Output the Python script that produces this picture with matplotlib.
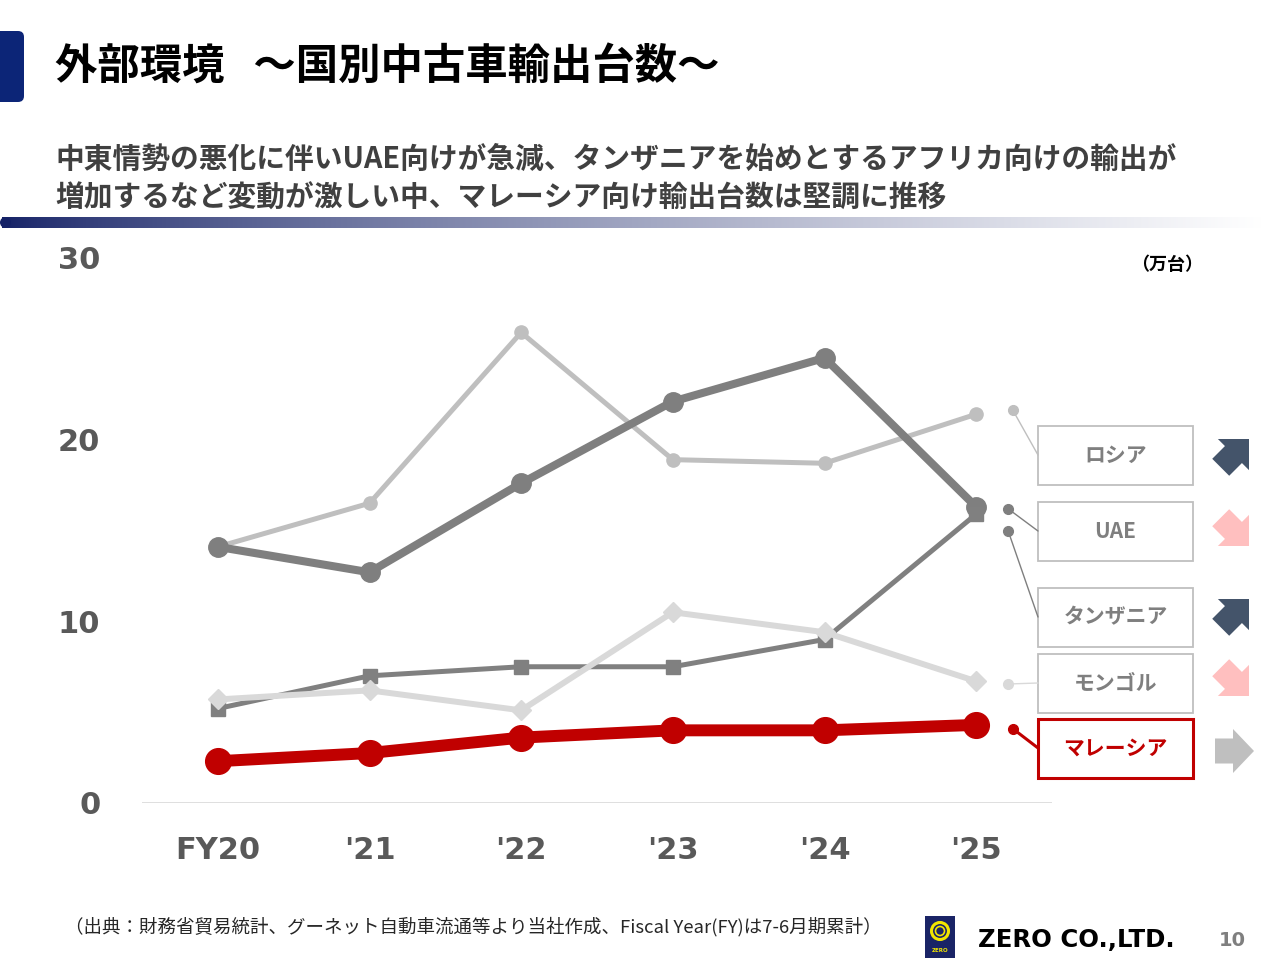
import numpy as np
import matplotlib
matplotlib.use("Agg")
import matplotlib.pyplot as plt
from matplotlib.patches import FancyBboxPatch, Rectangle, Polygon, Circle

plt.rcParams['font.family'] = ['Noto Sans CJK JP', 'DejaVu Sans']

# ---------------- data ----------------
years = ['FY20', "'21", "'22", "'23", "'24", "'25"]
russia = [14.1, 16.5, 25.9, 18.9, 18.7, 21.4]
uae = [14.1, 12.7, 17.6, 22.1, 24.5, 16.3]
tanzania = [5.2, 7.0, 7.5, 7.5, 9.0, 15.9]
mongolia = [5.7, 6.2, 5.1, 10.5, 9.4, 6.7]
malaysia = [2.3, 2.75, 3.6, 4.0, 4.0, 4.3]
names = ['ロシア', 'UAE', 'タンザニア', 'モンゴル', 'マレーシア']
trend = ['up', 'down', 'up', 'down', 'flat']
yticks = [0, 10, 20, 30]

# ---------------- styles ----------------
series = [russia, uae, tanzania, mongolia, malaysia]
colors = ['#bfbfbf', '#7f7f7f', '#808080', '#d9d9d9', '#c00000']
lws = [3.6, 5.8, 3.6, 4.3, 8.6]
markers = ['o', 'o', 's', 'D', 'o']
msizes = [9.5, 14, 10, 10, 18.5]
zorders = [2, 3, 4, 5, 6]
label_dy = [0.25, -0.1, -0.9, -0.15, -0.2]
label_dx = [5.24, 5.21, 5.21, 5.21, 5.24]
box_cy = [455, 531, 617, 683, 748]
arrow_tip = [(1249, 439), (1249, 546), (1249, 599), (1249, 696), (1254, 751)]

fig = plt.figure(figsize=(12.8, 9.6), dpi=100)
fig.patch.set_facecolor('white')

# overlay in pixel coordinates for decorations
ov = fig.add_axes([0, 0, 1, 1], zorder=0)
ov.set_xlim(0, 1280)
ov.set_ylim(960, 0)
ov.axis('off')

ax = fig.add_axes([142 / 1280, 1 - 803 / 960, 910 / 1280, (803 - 258) / 960], zorder=2)
ax.patch.set_alpha(0)
x = np.arange(len(years))
for s, c, lw, m, ms, z in zip(series, colors, lws, markers, msizes, zorders):
    ax.plot(x, s, color=c, lw=lw, marker=m, ms=ms, mec=c, mfc=c, zorder=z,
            clip_on=False, solid_joinstyle='round')
ax.set_xlim(-0.5, 5.5)
ax.set_ylim(0, 30)
ax.set_yticks(yticks)
ax.set_xticks(x)
ax.set_xticklabels(years)
ax.tick_params(length=0)
for sp in ax.spines.values():
    sp.set_visible(False)
ax.axhline(0, color='#d9d9d9', lw=1.2, zorder=1)
for t in ax.get_yticklabels():
    t.set_fontfamily('DejaVu Sans'); t.set_fontweight('bold'); t.set_fontsize(22); t.set_color('#595959')
for t in ax.get_xticklabels():
    t.set_fontfamily('DejaVu Sans'); t.set_fontweight('bold'); t.set_fontsize(22); t.set_color('#595959')
ax.tick_params(axis='y', pad=30)
ax.tick_params(axis='x', pad=24)

# callouts + legend boxes
for i, (nm, s, c) in enumerate(zip(names, series, colors)):
    dc = '#7f7f7f' if c in ('#808080', '#7f7f7f') else c
    yd = s[-1] + label_dy[i]
    ax.plot([label_dx[i]], [yd], 'o', color=dc, ms=7, clip_on=False, zorder=7)
    ax.annotate('', xy=(label_dx[i], yd), xycoords='data',
                xytext=(1038, box_cy[i]), textcoords=ov.transData,
                arrowprops=dict(arrowstyle='-', color=dc, lw=1.0 if i != 4 else 2.2,
                                shrinkA=0, shrinkB=0), zorder=7)
    ec = '#c00000' if i == 4 else '#bfbfbf'
    blw = 2.2 if i == 4 else 1.3
    ov.add_patch(Rectangle((1038, box_cy[i] - 29.5), 155, 59, fc='white', ec=ec, lw=blw, zorder=3))
    ov.text(1115.5, box_cy[i], nm, ha='center', va='center', fontsize=15, fontweight='bold',
            color='#c00000' if i == 4 else '#7f7f7f', zorder=4)

# trend arrows
def arrow_poly(tip, d, L=40, hl=21, hw=21, sw=12.5):
    u = np.array(d, float); u /= np.linalg.norm(u)
    v = np.array([-u[1], u[0]])
    t = np.array(tip, float)
    pts = [(0, 0), (-hl, hw), (-hl, sw), (-L, sw), (-L, -sw), (-hl, -sw), (-hl, -hw)]
    return [t + a * u + b * v for a, b in pts]

dirs = {'up': ((1, -1), '#44546a'), 'down': ((1, 1), '#ffbfbf'), 'flat': ((1, 0), '#bfbfbf')}
for i, tr in enumerate(trend):
    d, col = dirs[tr]
    if tr == 'flat':
        poly = arrow_poly(arrow_tip[i], d, L=39, hl=21, hw=22, sw=12.5)
    else:
        poly = arrow_poly(arrow_tip[i], d, L=40, hl=22, hw=22, sw=12)
    ov.add_patch(Polygon(poly, closed=True, fc=col, ec='none', zorder=3))

# title bar
ov.add_patch(FancyBboxPatch((-20, 31), 44, 71, boxstyle='round,pad=0,rounding_size=6',
                            fc='#0c2577', ec='none'))
ov.text(55, 67, '外部環境   ～国別中古車輸出台数～', fontsize=30.5, fontweight='bold',
        color='black', ha='left', va='center')
ov.text(55, 159, '中東情勢の悪化に伴いUAE向けが急減、タンザニアを始めとするアフリカ向けの輸出が',
        fontsize=20.7, fontweight='bold', color='#404040', ha='left', va='center')
ov.text(55, 198, '増加するなど変動が激しい中、マレーシア向け輸出台数は堅調に推移',
        fontsize=20.7, fontweight='bold', color='#404040', ha='left', va='center')

# gradient rule
grad = np.linspace(0, 1, 512)
c0 = np.array([0.08, 0.13, 0.40]); c1 = np.array([1.0, 1.0, 1.0])
g = np.clip(grad, 0, 1) ** 0.75
img = (c0[None, :] * (1 - g[:, None]) + c1[None, :] * g[:, None])[None, :, :]
ov.imshow(img, extent=(2, 1262, 228, 217), aspect='auto', zorder=1)
ov.add_patch(Circle((5.5, 222.5), 5.5, fc=c0, ec='none', zorder=1))
ov.set_xlim(0, 1280); ov.set_ylim(960, 0)

ov.text(1203, 265, '（万台）', fontsize=13, fontweight='bold', color='black', ha='right', va='center')

# footer
ov.text(65, 927, '（出典：財務省貿易統計、グーネット自動車流通等より当社作成、Fiscal Year(FY)は7-6月期累計）',
        fontsize=13.3, color='#262626', ha='left', va='center')
ov.add_patch(Rectangle((925, 916), 30, 42, fc='#1a2466', ec='none', zorder=2))
ov.add_patch(Circle((940, 931), 8.5, fc='none', ec='#f2e600', lw=2.2, zorder=3))
ov.add_patch(Circle((940, 931), 4.5, fc='none', ec='#f2e600', lw=1.2, zorder=3))
ov.text(940, 951, 'ZERO', fontsize=4, color='#f2e600', ha='center', va='center',
        family='DejaVu Sans', fontweight='bold', zorder=3)
ov.text(978, 940, 'ZERO CO.,LTD.', fontsize=17.6, fontweight='bold', color='black',
        ha='left', va='center', family='DejaVu Sans')
ov.text(1246, 941, '10', fontsize=14, fontweight='bold', color='#7f7f7f',
        ha='right', va='center', family='DejaVu Sans')

fig.savefig('out.png', dpi=100)
